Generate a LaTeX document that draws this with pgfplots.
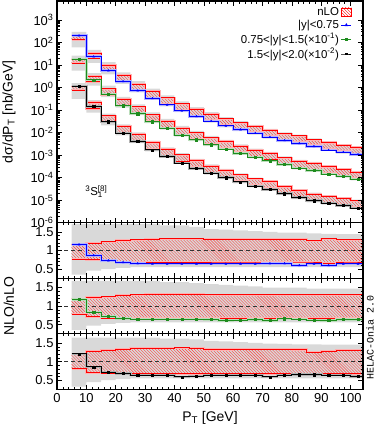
\documentclass[border=0pt]{standalone}
\usepackage{fontspec}
\setmainfont{Liberation Sans}
\setmonofont{Liberation Mono}
\usepackage{pgfplots}
\usepackage{pgfplotstable}
\pgfplotsset{compat=1.18}
\usepgfplotslibrary{fillbetween}
\usetikzlibrary{patterns,calc}

\definecolor{bandgray}{gray}{0.85}
\definecolor{nlogreen}{RGB}{30,140,30}

% x = left bin edge, nlo = NLO central (scaled), R = NLO/nLO,
% lo/hi = nLO band / nLO, glo/ghi = grey band / nLO
\pgfplotstableread{
x nlo R lo hi glo ghi
5 200 1.16 0.77 1.17 0.35 1.72
10 23.4 0.87 0.75 1.20 0.46 1.72
15 5.62 0.73 0.72 1.24 0.50 1.72
20 1.86 0.68 0.70 1.27 0.53 1.72
25 0.724 0.65 0.69 1.29 0.55 1.72
30 0.331 0.64 0.68 1.31 0.55 1.72
35 0.170 0.64 0.68 1.32 0.55 1.68
40 0.0933 0.64 0.68 1.32 0.55 1.68
45 0.0525 0.64 0.68 1.32 0.55 1.64
50 0.0324 0.64 0.69 1.31 0.55 1.58
55 0.0200 0.64 0.69 1.31 0.55 1.56
60 0.0135 0.64 0.69 1.30 0.55 1.54
65 0.00933 0.64 0.69 1.30 0.55 1.52
70 0.00631 0.65 0.69 1.30 0.55 1.50
75 0.00447 0.65 0.69 1.30 0.55 1.48
80 0.00331 0.60 0.69 1.30 0.55 1.48
85 0.00245 0.64 0.69 1.26 0.55 1.46
90 0.00166 0.60 0.66 1.32 0.55 1.45
95 0.00135 0.64 0.69 1.29 0.55 1.44
100 0.00107 0.64 0.69 1.29 0.55 1.44
105 0.00107 0.64 0.69 1.29 0.55 1.44
}\tabblue

\pgfplotstableread{
x nlo R lo hi glo ghi
5 18.2 1.18 0.78 1.20 0.36 1.68
10 2.19 0.84 0.71 1.23 0.47 1.68
15 0.513 0.72 0.68 1.25 0.52 1.68
20 0.155 0.67 0.66 1.29 0.55 1.68
25 0.0692 0.65 0.67 1.31 0.56 1.68
30 0.0302 0.65 0.67 1.32 0.56 1.68
35 0.0158 0.65 0.67 1.32 0.56 1.65
40 0.00776 0.65 0.67 1.32 0.56 1.65
45 0.00479 0.65 0.67 1.32 0.56 1.62
50 0.00288 0.64 0.67 1.31 0.56 1.59
55 0.00186 0.61 0.67 1.31 0.56 1.57
60 0.00120 0.62 0.67 1.31 0.56 1.55
65 0.000813 0.64 0.67 1.31 0.56 1.53
70 0.000562 0.61 0.67 1.31 0.56 1.50
75 0.000389 0.66 0.67 1.31 0.56 1.50
80 0.000269 0.65 0.67 1.31 0.56 1.50
85 0.000209 0.62 0.67 1.31 0.56 1.47
90 0.000145 0.61 0.67 1.31 0.56 1.47
95 0.000115 0.64 0.67 1.31 0.56 1.47
100 0.0000871 0.64 0.67 1.31 0.56 1.47
105 0.0000871 0.64 0.67 1.31 0.56 1.47
}\tabgreen

\pgfplotstableread{
x nlo R lo hi glo ghi
5 1.15 1.21 0.81 1.20 0.33 1.65
10 0.145 0.86 0.70 1.29 0.45 1.65
15 0.0302 0.72 0.69 1.31 0.50 1.65
20 0.00955 0.68 0.68 1.34 0.53 1.65
25 0.00398 0.64 0.67 1.36 0.55 1.65
30 0.00170 0.64 0.67 1.37 0.55 1.65
35 0.000871 0.64 0.67 1.36 0.55 1.62
40 0.000447 0.59 0.67 1.38 0.55 1.62
45 0.000257 0.61 0.67 1.36 0.55 1.60
50 0.000158 0.64 0.67 1.33 0.55 1.56
55 0.000100 0.64 0.67 1.33 0.55 1.55
60 0.0000646 0.64 0.67 1.34 0.55 1.53
65 0.0000427 0.64 0.67 1.34 0.55 1.51
70 0.0000295 0.59 0.67 1.34 0.55 1.49
75 0.0000195 0.64 0.67 1.34 0.55 1.48
80 0.0000132 0.65 0.67 1.33 0.55 1.47
85 0.00000955 0.65 0.67 1.26 0.55 1.47
90 0.00000741 0.64 0.67 1.29 0.55 1.46
95 0.00000589 0.64 0.67 1.31 0.55 1.46
100 0.00000437 0.60 0.67 1.31 0.55 1.46
105 0.00000437 0.60 0.67 1.31 0.55 1.46
}\tabblack

\pgfplotsset{
  panel/.style={scale only axis, width=306bp, xmin=0, xmax=104.2,
    xtick={0,10,...,100}, minor x tick num=4,
    axis line style={line width=1.1bp}, tick style={black,line width=0.6bp},
    major tick length=5bp, minor tick length=2.5bp,
    tick label style={font=\fontsize{13}{15}\selectfont},
    label style={font=\fontsize{14}{16}\selectfont},
    /pgf/number format/assume math mode=true, axis on top},
  ratio/.style={panel, height=55.6bp, ymin=0.25, ymax=1.75,
    ytick={0.5,1,1.5}, yticklabels={0.5,1,1.5}, minor y tick num=4},
  ylab/.style={ylabel style={at={(rel axis cs:-0.157,0.5)},anchor=center}},
}

% main panel: grey band, hatched nLO band, NLO histogram and points
\newcommand{\mainhist}[4]{%
  \addplot[const plot, draw=none, name path=#2gh, forget plot] table[x=x, y expr=\thisrow{nlo}/\thisrow{R}*\thisrow{ghi}] {#1};
  \addplot[const plot, draw=none, name path=#2gl, forget plot] table[x=x, y expr=\thisrow{nlo}/\thisrow{R}*\thisrow{glo}] {#1};
  \addplot[bandgray, forget plot] fill between[of=#2gh and #2gl];
  \addplot[const plot, draw=none, name path=#2rh, forget plot] table[x=x, y expr=\thisrow{nlo}/\thisrow{R}*\thisrow{hi}] {#1};
  \addplot[const plot, draw=none, name path=#2rl, forget plot] table[x=x, y expr=\thisrow{nlo}/\thisrow{R}*\thisrow{lo}] {#1};
  \addplot[pattern=north west lines, pattern color=red!75, forget plot] fill between[of=#2rh and #2rl];
  \addplot[const plot, red!30, line width=2.2bp, forget plot] table[x=x, y expr=\thisrow{nlo}/\thisrow{R}*\thisrow{hi}] {#1};
  \addplot[const plot, red!30, line width=2.2bp, forget plot] table[x=x, y expr=\thisrow{nlo}/\thisrow{R}*\thisrow{lo}] {#1};
  \addplot[const plot, red, line width=0.9bp, forget plot] table[x=x, y expr=\thisrow{nlo}/\thisrow{R}*\thisrow{hi}] {#1};
  \addplot[const plot, red, line width=0.9bp, forget plot] table[x=x, y expr=\thisrow{nlo}/\thisrow{R}*\thisrow{lo}] {#1};
  \addplot[const plot, #3!30, line width=2.4bp, forget plot] table[x=x, y=nlo] {#1};
  \addplot[const plot, #3, line width=0.9bp, forget plot] table[x=x, y=nlo] {#1};
  \addplot[only marks, mark=#4, mark size=1.1bp, #3, restrict x to domain=0:104, forget plot] table[x expr=\thisrow{x}+2.5, y=nlo] {#1};
}

% ratio panel: same bands divided by nLO
\newcommand{\ratiohist}[4]{%
  \addplot[const plot, draw=none, name path=#2gh, forget plot] table[x=x, y=ghi] {#1};
  \addplot[const plot, draw=none, name path=#2gl, forget plot] table[x=x, y=glo] {#1};
  \addplot[bandgray, forget plot] fill between[of=#2gh and #2gl];
  \addplot[const plot, draw=none, name path=#2rh, forget plot] table[x=x, y=hi] {#1};
  \addplot[const plot, draw=none, name path=#2rl, forget plot] table[x=x, y=lo] {#1};
  \addplot[pattern=north west lines, pattern color=red!75, forget plot] fill between[of=#2rh and #2rl];
  \addplot[const plot, red!30, line width=2.2bp, forget plot] table[x=x, y=hi] {#1};
  \addplot[const plot, red!30, line width=2.2bp, forget plot] table[x=x, y=lo] {#1};
  \addplot[const plot, red, line width=0.9bp, forget plot] table[x=x, y=hi] {#1};
  \addplot[const plot, red, line width=0.9bp, forget plot] table[x=x, y=lo] {#1};
  \addplot[black!80, dash pattern=on 4bp off 3bp, line width=0.7bp, forget plot] coordinates {(0,1) (105,1)};
  \addplot[const plot, #3!30, line width=2.4bp, forget plot] table[x=x, y=R] {#1};
  \addplot[const plot, #3, line width=0.9bp, forget plot] table[x=x, y=R] {#1};
  \addplot[only marks, mark=#4, mark size=1.1bp, #3, restrict x to domain=0:104, forget plot] table[x expr=\thisrow{x}+2.5, y=R] {#1};
}

\begin{document}
\begin{tikzpicture}
\begin{axis}[panel, name=main, at={(0,0)}, anchor=north west, height=221.7bp,
  ymode=log, ymin=1e-6, ymax=6.9e3,
  ytick={1e-6,1e-5,1e-4,1e-3,1e-2,1e-1,1,10,100,1000},
  yticklabels={10\textsuperscript{-6},10\textsuperscript{-5},10\textsuperscript{-4},10\textsuperscript{-3},10\textsuperscript{-2},10\textsuperscript{-1},10\textsuperscript{0},10\textsuperscript{1},10\textsuperscript{2},10\textsuperscript{3}},
  xticklabels={}, ylab, ylabel={dσ/dP\textsubscript{T} [nb/GeV]},
  legend style={draw=none, fill=none, at={(rel axis cs:1,1)}, anchor=north east,
    xshift=-8bp, yshift=-2bp, font=\fontsize{11.5}{13}\selectfont,
    legend cell align=right, row sep=-0.5bp},
  legend plot pos=right,
  legend image code/.code={\draw[mark repeat=2,mark phase=2,#1] plot coordinates {(0bp,0bp) (5bp,0bp) (10bp,0bp)};}]
\mainhist{\tabblue}{b}{blue}{triangle*}
\mainhist{\tabgreen}{g}{nlogreen}{square*}
\mainhist{\tabblack}{k}{black}{square*}
\node[font=\fontsize{11.5}{13}\selectfont] at (axis cs:13.4,2.4e-5)
  {\textsuperscript{3}S\rlap{\textsubscript{1}}\textsuperscript{[8]}};
\addlegendimage{legend image code/.code={\draw[red, line width=0.8bp, pattern=north west lines, pattern color=red] (0bp,-4bp) rectangle (10bp,4bp);}}
\addlegendentry{nLO}
\addlegendimage{blue, line width=0.9bp, mark=triangle*, mark size=1.1bp}
\addlegendentry{|y|<0.75}
\addlegendimage{nlogreen, line width=0.9bp, mark=square*, mark size=0.9bp}
\addlegendentry{0.75<|y|<1.5(×10\textsuperscript{-1})}
\addlegendimage{black, line width=0.9bp, mark=square*, mark size=0.9bp}
\addlegendentry{1.5<|y|<2.0(×10\textsuperscript{-2})}
\end{axis}

\begin{axis}[ratio, name=r1, at={(main.south west)}, anchor=north west, xticklabels={}]
\ratiohist{\tabblue}{b}{blue}{triangle*}
\end{axis}

\begin{axis}[ratio, name=r2, at={(r1.south west)}, anchor=north west, xticklabels={},
  ylab, ylabel={NLO/nLO}]
\ratiohist{\tabgreen}{g}{nlogreen}{square*}
\end{axis}

\begin{axis}[ratio, name=r3, at={(r2.south west)}, anchor=north west,
  xlabel={P\textsubscript{T} [GeV]},
  xlabel style={at={(rel axis cs:0.5,0)}, yshift=-28.5bp, anchor=center}]
\ratiohist{\tabblack}{k}{black}{square*}
\end{axis}

\node[rotate=90, font=\ttfamily\fontsize{10}{12}\selectfont] at ($(r3.south east)+(7bp,52bp)$) {HELAC-Onia 2.0};

\pgfresetboundingbox
\path[use as bounding box] ($(main.north west)+(-57bp,1bp)$) rectangle ++(374bp,-433bp);
\end{tikzpicture}
\end{document}
